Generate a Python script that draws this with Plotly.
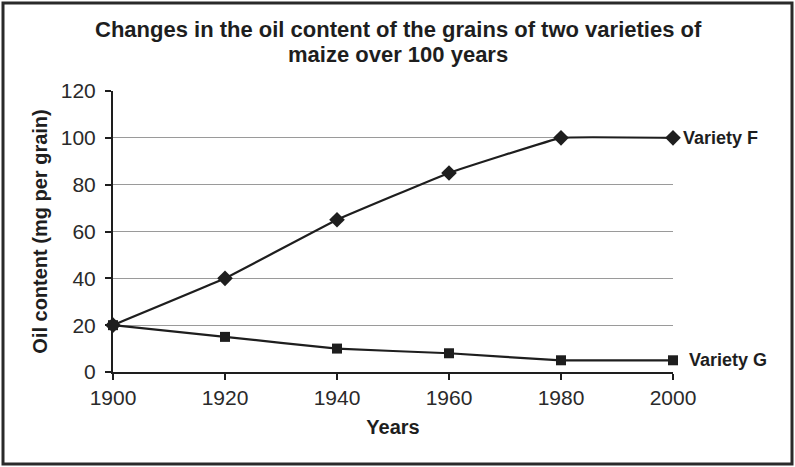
import plotly.graph_objects as go

years = [1900, 1920, 1940, 1960, 1980, 2000]
variety_f = [20, 40, 65, 85, 100, 100]
variety_g = [20, 15, 10, 8, 5, 5]
x_ticks = [1900, 1920, 1940, 1960, 1980, 2000]
y_ticks = [0, 20, 40, 60, 80, 100, 120]
title_lines = ["Changes in the oil content of the grains of two varieties of",
               "maize over 100 years"]

W, H = 795, 467
L, R, T, B = 113, 673, 91, 372
pw, ph = R - L, B - T

ink = "#1e1e1e"
font = "Liberation Sans, Arial, sans-serif"

fig = go.Figure()
fig.add_trace(go.Scatter(x=years, y=variety_f, mode="lines+markers",
                         line=dict(color=ink, width=2.2, shape="spline", smoothing=0.2),
                         marker=dict(symbol="diamond", size=12, color=ink),
                         showlegend=False, cliponaxis=False))
fig.add_trace(go.Scatter(x=years, y=variety_g, mode="lines+markers",
                         line=dict(color=ink, width=2.2, shape="spline", smoothing=0.2),
                         marker=dict(symbol="square", size=10, color=ink),
                         showlegend=False, cliponaxis=False))

fig.add_annotation(x=years[-1], y=variety_f[-1], text="<b>Variety F</b>", xref="x", yref="y",
                   xanchor="left", xshift=8, showarrow=False,
                   font=dict(size=18, color=ink, family=font))
fig.add_annotation(x=years[-1], y=variety_g[-1], text="<b>Variety G</b>", xref="x", yref="y",
                   xanchor="left", xshift=14, showarrow=False,
                   font=dict(size=18, color=ink, family=font))

# title as two annotation lines
for line, cy in zip(title_lines, [30, 55]):
    fig.add_annotation(x=(398 - L) / pw, y=(B - cy) / ph, xref="paper", yref="paper",
                       xanchor="center", yanchor="middle", showarrow=False,
                       text="<b>" + line + "</b>",
                       font=dict(size=22, color=ink, family=font))

# outer frame
fig.add_shape(type="rect", xref="paper", yref="paper",
              x0=(3 - L) / pw, x1=(792 - L) / pw,
              y0=(B - 464) / ph, y1=(B - 3) / ph,
              line=dict(color="#2a2a2a", width=3), fillcolor="rgba(0,0,0,0)", layer="below")

fig.update_layout(
    width=W, height=H,
    margin=dict(l=L, r=W - R, t=T, b=H - B, pad=0),
    paper_bgcolor="white", plot_bgcolor="white",
    font=dict(family=font, color="#2a2a2a"),
    xaxis=dict(range=[1900, 2000], tickvals=x_ticks, ticktext=[str(v) for v in x_ticks],
               showgrid=False, zeroline=False, showline=True, linecolor=ink, linewidth=2,
               ticks="outside", ticklen=6, tickwidth=2, tickcolor=ink,
               tickfont=dict(size=21, color="#2a2a2a"),
               title=dict(text="<b>Years</b>", font=dict(size=20, color=ink), standoff=12)),
    yaxis=dict(range=[0, 120], tickvals=y_ticks,
               showgrid=True, gridcolor="#9a9a9a", gridwidth=1, zeroline=False,
               showline=True, linecolor=ink, linewidth=2,
               ticks="outside", ticklen=6, tickwidth=2, tickcolor=ink,
               ticklabelstandoff=5,
               tickfont=dict(size=21, color="#2a2a2a"),
               title=dict(text="<b>Oil content (mg per grain)</b>", font=dict(size=20, color=ink), standoff=8)),
)

fig.write_html("out.html", config={"displayModeBar": False},
               post_script="document.body.style.margin='0';")
